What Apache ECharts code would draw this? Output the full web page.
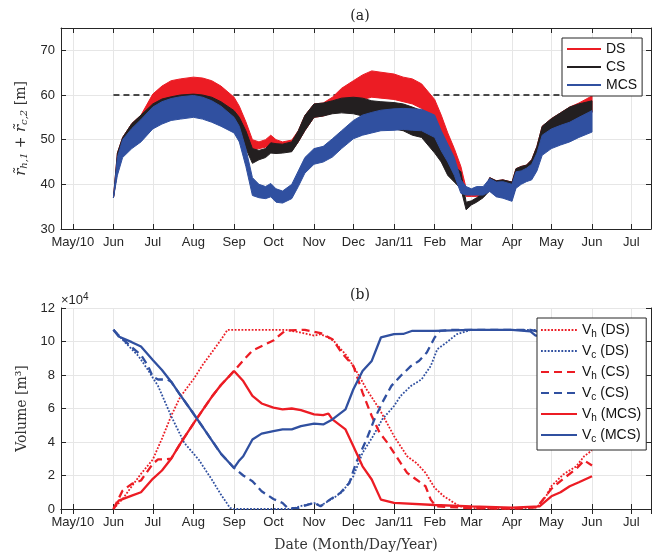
<!DOCTYPE html>
<html><head><meta charset="utf-8">
<script src="https://cdn.jsdelivr.net/npm/echarts@6/dist/echarts.min.js"></script>
<style>html,body{margin:0;padding:0;background:#fff}#c{width:659px;height:554px}</style>
</head><body><div id="c"></div>
<script>
// ---------- DATA: panel (a) band envelopes ----------
const topDates = ['2010-06-01','2010-06-04','2010-06-08','2010-06-15','2010-06-22','2010-07-01','2010-07-08','2010-07-15','2010-07-22','2010-08-01','2010-08-08','2010-08-15','2010-08-22','2010-09-01','2010-09-05','2010-09-10','2010-09-15','2010-09-20','2010-09-25','2010-09-29','2010-10-03','2010-10-08','2010-10-15','2010-10-20','2010-10-25','2010-11-01','2010-11-08','2010-11-15','2010-11-22','2010-12-01','2010-12-08','2010-12-15','2010-12-22','2011-01-01','2011-01-08','2011-01-15','2011-01-22','2011-02-01','2011-02-06','2011-02-11','2011-02-16','2011-02-21','2011-02-25','2011-03-01','2011-03-05','2011-03-10','2011-03-15','2011-03-20','2011-03-25','2011-04-01','2011-04-04','2011-04-08','2011-04-12','2011-04-16','2011-04-20','2011-04-24','2011-05-01','2011-05-08','2011-05-15','2011-05-22','2011-06-01'];
const mcsUpper = [37,46,50,52.5,54.5,57.3,58.5,59.2,59.6,59.9,59.5,58.7,57.5,55,53,48,41.5,40,39.5,40.2,39,38.5,40,43,46,48,48.5,50.2,52,54.3,55.5,56.1,56.6,56.9,57,56.9,56.8,55.5,52,49,46,41,39.5,39,39.5,39.5,41.3,40.5,40.6,40,42.8,43,43.6,44.5,47,51,52.4,53.2,53.9,55,56.5];
const mcsLower = [37,42,46,48,49.5,52.4,53.5,54.3,54.6,55,54.6,53.9,53,51.5,49.5,44,37.5,37,36.8,37.2,36,35.8,36.8,39.5,42.5,44.5,45,46.1,48,50.2,51,51.5,52,52.1,52.3,52.1,52,50.5,47.5,45,42,38,37.6,37.6,37.6,37.6,38.4,37.2,36.9,36.2,39.1,40,40.6,41,43,46.5,48,48.8,49.5,50.5,51.7];
const csUpper = [37,47,50.5,53.6,55.5,58,59.1,59.6,60,60.2,60,59.5,58.5,56.5,55,52,48,47.6,48,49.3,49.1,49,49.5,52,55.4,58,58.2,58.7,59.3,59.5,59.3,58.7,58.5,58.3,58,57.3,56.5,54,50,47.5,44,42.8,36,36.3,37,38,41.5,40.8,41,40.5,43.5,44,44.3,45.5,48.5,53,54.7,56,57.3,58,58.7];
const csLower = [37,43,47,49,51,53.5,54.5,55,55.3,55.5,55.3,55,54,52.5,51,48,44.7,45.5,46,47,46.9,47,47.3,49.5,52,55,55.3,55.8,56,55.8,55.3,55,54,52.4,52,51,50.5,47,45,42,40.5,39,34.3,35.4,36,37,38.6,37.4,37.2,36.8,39.5,40.5,41,42,44.5,48.5,51,52.5,53.9,55,56.1];
const dsUpper = [37,47,50.5,53.6,55.5,60.2,62,63.2,63.6,64,63.8,63.2,62,59.5,57.5,54,50,49.5,50,51,50,49.5,49.9,52,55.4,58,58.2,59.5,61.5,63.2,64.5,65.4,65.1,64.7,64,63.6,62.5,59,55.5,51.5,48,44,39.1,37.5,37.6,38,41.5,40.8,41,40.5,43.5,44,44.3,45.5,48.5,53,54.7,56,57.3,58.2,59.8];
const dsLower = [37,43,47,49,51,54,56,57,57.5,58,57.8,57,56.5,55.5,53.5,50,47.6,48,48.3,48.7,47.5,47.3,47.5,49.5,52,55,55.3,56,57,58,59,59.5,59.3,59,58.5,58,57,54,50,47,43.5,40,37.3,37.3,37.3,37.4,38.6,37.4,37.2,36.8,39.5,40.5,41,42,44.5,48.5,51,52.5,53.9,55,56.1];
const refDates = ['2010-06-01','2011-06-01'];
const refValues = [60,60];

// ---------- DATA: panel (b) volumes (x 10^4 m^3) ----------
const vhDsDates = ['2010-06-01','2010-06-08','2010-06-15','2010-06-22','2010-07-01','2010-07-08','2010-07-15','2010-07-22','2010-08-01','2010-08-08','2010-08-15','2010-08-22','2010-08-27','2010-09-15','2010-10-01','2010-10-10','2010-10-21','2010-11-01','2010-11-06','2010-11-10','2010-11-16','2010-11-26','2010-12-04','2010-12-11','2010-12-21','2011-01-01','2011-01-11','2011-01-18','2011-01-25','2011-02-01','2011-02-08','2011-02-20','2011-03-01','2011-04-01','2011-04-20','2011-04-27','2011-05-01','2011-05-10','2011-05-20','2011-05-26','2011-06-01'];
const vhDsVals = [0,0.6,1.36,2.1,2.95,4.2,5.55,6.7,7.74,8.6,9.34,10.1,10.7,10.7,10.7,10.7,10.55,10.35,10.44,10.3,10.04,9.14,8.14,7.15,5.95,4.35,3.15,2.75,2.16,1.26,0.76,0.16,0.05,0.02,0.1,0.76,1.36,2.06,2.55,3.15,3.5];
const vcDsDates = ['2010-06-01','2010-06-10','2010-06-20','2010-06-27','2010-07-01','2010-07-05','2010-07-15','2010-07-25','2010-08-05','2010-08-15','2010-08-22','2010-08-29','2010-09-01','2010-10-15','2010-10-21','2010-11-01','2010-11-06','2010-11-16','2010-11-23','2010-12-01','2010-12-08','2010-12-16','2010-12-23','2011-01-01','2011-01-06','2011-01-14','2011-01-22','2011-01-29','2011-02-03','2011-02-10','2011-02-18','2011-03-01','2011-04-20','2011-06-01'];
const vcDsVals = [10.7,9.94,9.14,8.34,7.84,7.35,5.55,3.95,2.95,1.76,0.86,0.06,0,0,0.16,0.36,0.2,0.66,1.06,1.96,3.35,4.35,5.35,6.15,6.75,7.35,7.74,8.54,9.54,9.94,10.44,10.7,10.7,10.6];
const vhCsDates = ['2010-06-01','2010-06-08','2010-06-15','2010-06-22','2010-07-01','2010-07-05','2010-07-10','2010-07-15','2010-07-22','2010-08-01','2010-08-08','2010-08-15','2010-08-22','2010-09-01','2010-09-08','2010-09-15','2010-10-01','2010-10-10','2010-10-25','2010-11-06','2010-11-15','2010-11-22','2010-12-01','2010-12-08','2010-12-15','2010-12-21','2010-12-27','2011-01-01','2011-01-06','2011-01-11','2011-01-18','2011-01-25','2011-01-29','2011-02-02','2011-03-01','2011-04-01','2011-04-20','2011-05-01','2011-05-10','2011-05-20','2011-05-26','2011-06-01'];
const vhCsVals = [0,1.1,1.5,1.7,2.7,2.96,2.96,3.0,3.9,5.1,5.9,6.7,7.4,8.24,8.87,9.46,10.06,10.65,10.7,10.5,10.14,9.34,8.54,6.95,5.55,4.55,3.95,3.35,2.75,2.16,1.76,1.36,0.56,0.16,0.05,0.02,0.1,1.2,1.8,2.4,2.9,2.6];
const vcCsDates = ['2010-06-01','2010-06-05','2010-06-15','2010-06-22','2010-06-27','2010-07-01','2010-07-05','2010-07-12','2010-07-15','2010-07-22','2010-08-01','2010-08-08','2010-08-15','2010-08-22','2010-09-01','2010-09-08','2010-09-15','2010-09-22','2010-10-01','2010-10-08','2010-10-12','2010-10-20','2010-10-25','2010-11-01','2010-11-06','2010-11-13','2010-11-21','2010-11-28','2010-12-03','2010-12-11','2010-12-17','2010-12-23','2010-12-30','2011-01-06','2011-01-14','2011-01-20','2011-01-26','2011-02-01','2011-02-05','2011-02-15','2011-04-15','2011-04-20','2011-06-01'];
const vcCsVals = [10.7,10.36,9.66,9.2,8.6,7.9,7.73,7.73,7.6,6.8,5.7,4.9,4.1,3.3,2.45,2.0,1.66,1.06,0.6,0.36,0.05,0.05,0.2,0.36,0.16,0.56,0.96,1.56,2.75,4.15,5.35,6.35,7.35,7.94,8.54,8.84,9.34,10.24,10.64,10.7,10.7,10.6,10.5];
const vhMcsDates = ['2010-06-01','2010-06-05','2010-06-15','2010-06-22','2010-07-01','2010-07-08','2010-07-15','2010-07-22','2010-08-01','2010-08-08','2010-08-15','2010-08-22','2010-09-01','2010-09-05','2010-09-08','2010-09-15','2010-09-22','2010-10-01','2010-10-08','2010-10-15','2010-10-22','2010-11-01','2010-11-08','2010-11-12','2010-11-15','2010-11-25','2010-12-01','2010-12-08','2010-12-15','2010-12-22','2011-01-01','2011-02-01','2011-03-01','2011-04-01','2011-04-22','2011-05-01','2011-05-08','2011-05-15','2011-05-22','2011-06-01'];
const vhMcsVals = [0,0.5,0.8,1.0,1.8,2.3,3.0,3.9,5.1,5.9,6.7,7.4,8.24,7.9,7.64,6.75,6.3,6.05,5.95,6.0,5.9,5.65,5.6,5.7,5.35,4.75,3.75,2.55,1.76,0.56,0.36,0.24,0.16,0.08,0.16,0.76,1.0,1.36,1.6,1.96];
const vcMcsDates = ['2010-06-01','2010-06-05','2010-06-15','2010-06-22','2010-07-01','2010-07-08','2010-07-15','2010-07-22','2010-08-01','2010-08-08','2010-08-15','2010-08-22','2010-09-01','2010-09-05','2010-09-08','2010-09-15','2010-09-22','2010-10-01','2010-10-08','2010-10-15','2010-10-22','2010-11-01','2010-11-08','2010-11-15','2010-11-25','2010-12-01','2010-12-08','2010-12-15','2010-12-22','2011-01-01','2011-01-08','2011-01-15','2011-02-01','2011-03-01','2011-04-01','2011-04-15','2011-04-19','2011-05-01','2011-06-01'];
const vcMcsVals = [10.7,10.3,9.96,9.7,8.9,8.3,7.6,6.8,5.7,4.9,4.1,3.3,2.45,2.9,3.15,4.15,4.5,4.65,4.75,4.75,4.95,5.1,5.05,5.35,5.95,7.15,8.24,8.84,10.24,10.44,10.45,10.64,10.64,10.7,10.7,10.6,10.35,10.4,10.4];

const monthNames = ['Jan','Feb','Mar','Apr','May','Jun','Jul','Aug','Sep','Oct','Nov','Dec'];

// ---------- helpers ----------
const ts = s => new Date(s + 'T00:00:00').getTime();
const pairs = (d, v) => d.map((s, i) => [ts(s), v[i]]);
const RED = '#ec1c24', BLUE = '#3050a0', BLACK = '#231f20';
const AX = '#262626', GRID = '#e6e6e6';
const SANS = 'Liberation Sans, Arial, sans-serif';
const SERIF = 'DejaVu Serif, serif';
const xMin = ts('2010-04-22'), xMax = ts('2011-07-16');

function xFmt(v) {
  const d = new Date(v);
  const m = d.getMonth();
  if (d.getFullYear() === 2010 && m === 4) return 'May/10';
  if (m === 0) return 'Jan/' + String(d.getFullYear()).slice(2);
  return monthNames[m];
}
function xAxisMain(gi, withName) {
  const a = {
    type: 'time', gridIndex: gi, min: xMin, max: xMax,
    minInterval: 28 * 864e5, maxInterval: 31 * 864e5,
    axisLine: { lineStyle: { color: AX, width: 1 } },
    axisTick: { inside: true, length: 5, lineStyle: { color: AX } },
    axisLabel: { formatter: xFmt, color: '#262626', fontFamily: SANS, fontSize: 13, margin: 7, interval: 0, hideOverlap: false, showMinLabel: false, showMaxLabel: false },
    splitLine: { show: true, lineStyle: { color: GRID, width: 1 } }
  };
  if (withName) {
    a.name = 'Date (Month/Day/Year)';
    a.nameLocation = 'middle';
    a.nameGap = 29;
    a.nameTextStyle = { fontFamily: SERIF, fontSize: 14, color: '#333' };
  }
  return a;
}
function xAxisTop(gi) {
  return {
    type: 'time', gridIndex: gi, position: 'top', min: xMin, max: xMax,
    minInterval: 28 * 864e5, maxInterval: 31 * 864e5,
    axisLine: { lineStyle: { color: AX } },
    axisTick: { inside: true, length: 5, lineStyle: { color: AX } },
    axisLabel: { show: false }, splitLine: { show: false }
  };
}
function yAxisPair(gi, min, max, interval, name, nameStyle) {
  return [{
    type: 'value', gridIndex: gi, min, max, interval,
    name, nameLocation: 'middle', nameGap: 30, nameTextStyle: nameStyle,
    axisLine: { show: true, lineStyle: { color: AX } },
    axisTick: { show: true, inside: true, length: 5, lineStyle: { color: AX } },
    axisLabel: { color: '#262626', fontFamily: SANS, fontSize: 13, margin: 6, showMaxLabel: max % interval === 0 },
    splitLine: { show: true, lineStyle: { color: GRID } }
  }, {
    type: 'value', gridIndex: gi, min, max, interval, position: 'right',
    axisLine: { show: true, lineStyle: { color: AX } },
    axisTick: { show: true, inside: true, length: 5, lineStyle: { color: AX } },
    axisLabel: { show: false }, splitLine: { show: false }
  }];
}
function band(name, upper, lower, color) {
  return {
    type: 'custom', name, xAxisIndex: 0, yAxisIndex: 0, z: 3,
    data: [[ts('2010-12-01'), 50]],
    renderItem: function (params, api) {
      const pts = [];
      for (let i = 0; i < topDates.length; i++) pts.push(api.coord([ts(topDates[i]), upper[i]]));
      for (let i = topDates.length - 1; i >= 0; i--) pts.push(api.coord([ts(topDates[i]), lower[i]]));
      return { type: 'polygon', shape: { points: pts }, style: { fill: color, stroke: color, lineWidth: 1 } };
    },
    silent: true, tooltip: { show: false }
  };
}
function legendLine(name, color) {
  return { type: 'line', name, xAxisIndex: 0, yAxisIndex: 0, data: [], symbol: 'none', lineStyle: { color, width: 1.2 }, itemStyle: { color } };
}
function volLine(name, d, v, color, kind) {
  const ls = { color, width: 2.3 };
  if (kind === 'dash') { ls.type = [8, 5]; ls.width = 2.3; }
  if (kind === 'dot') { ls.type = [1.8, 1.6]; ls.width = 1.8; }
  return { type: 'line', name, xAxisIndex: 1, yAxisIndex: 1, data: pairs(d, v), symbol: 'none', showSymbol: false, lineStyle: ls, itemStyle: { color }, z: 3 };
}

const yA = yAxisPair(0, 30, 75, 10,
  '{i|r\u0303}{s|h,1}{n| + }{i|r\u0303}{s|c,2}{n| [m]}',
  { fontFamily: SERIF, fontSize: 14, color: '#333', rich: {
    i: { fontFamily: SERIF, fontStyle: 'italic', fontSize: 15, color: '#333' },
    s: { fontFamily: SERIF, fontStyle: 'italic', fontSize: 10, color: '#333', padding: [7, 0, 0, 0] },
    n: { fontFamily: SERIF, fontSize: 14, color: '#333' } } });
const yB = yAxisPair(1, 0, 12, 2, 'Volume [m\u00b3]', { fontFamily: SERIF, fontSize: 14, color: '#333' });

const chart = echarts.init(document.getElementById('c'), null, { renderer: 'canvas' });
chart.setOption({
  animation: false,
  backgroundColor: '#fff',
  title: [
    { text: '(a)', left: 355, top: 4, textAlign: 'center', textStyle: { fontFamily: SERIF, fontSize: 14, fontWeight: 'normal', color: '#222' } },
    { text: '(b)', left: 355, top: 283, textAlign: 'center', textStyle: { fontFamily: SERIF, fontSize: 14, fontWeight: 'normal', color: '#222' } }
  ],
  grid: [
    { left: 61, right: 8, top: 28, height: 201 },
    { left: 61, right: 8, top: 308, height: 201 }
  ],
  xAxis: [xAxisMain(0, false), xAxisMain(1, true), xAxisTop(0), xAxisTop(1)],
  yAxis: [yA[0], yB[0], yA[1], yB[1]],
  legend: [
    {
      data: ['DS', 'CS', 'MCS'], orient: 'vertical', left: 562, top: 38,
      itemWidth: 34, itemHeight: 12, itemGap: 4, padding: [4, 5, 4, 4],
      itemStyle: { opacity: 0 },
      backgroundColor: '#fff', borderColor: AX, borderWidth: 1, borderRadius: 0, z: 10,
      textStyle: { fontFamily: SANS, fontSize: 14, color: '#111' }
    },
    {
      data: ['V_h (DS)', 'V_c (DS)', 'V_h (CS)', 'V_c (CS)', 'V_h (MCS)', 'V_c (MCS)'],
      orient: 'vertical', left: 537, top: 318,
      itemWidth: 36, itemHeight: 14, itemGap: 5, padding: [5, 5, 6, 3],
      itemStyle: { opacity: 0 },
      backgroundColor: '#fff', borderColor: AX, borderWidth: 1, borderRadius: 0, z: 10,
      formatter: n => n.replace(/V_(\w)/, '{v|V}{s|$1}'),
      textStyle: { fontFamily: SANS, fontSize: 14, color: '#111', rich: {
        v: { fontFamily: SANS, fontSize: 14, color: '#111' },
        s: { fontFamily: SANS, fontSize: 10, color: '#111', padding: [8, 0, 0, 0] } } }
    }
  ],
  graphic: [
    { type: 'text', left: 61, top: 292, style: { rich: { a: { fontFamily: SANS, fontSize: 13, fill: '#262626' }, b: { fontFamily: SANS, fontSize: 10, fill: '#262626', padding: [0, 0, 7, 0] } }, text: '{a|\u00d710}{b|4}' } }
  ],
  series: [
    { type: 'line', name: 'ref', xAxisIndex: 0, yAxisIndex: 0, data: pairs(refDates, refValues), symbol: 'none', lineStyle: { color: '#111', width: 1.5, type: [6, 4] }, z: 2, silent: true },
    band('DS band', dsUpper, dsLower, RED),
    band('CS band', csUpper, csLower, BLACK),
    band('MCS band', mcsUpper, mcsLower, BLUE),
    legendLine('DS', RED), legendLine('CS', BLACK), legendLine('MCS', BLUE),
    volLine('V_h (DS)', vhDsDates, vhDsVals, RED, 'dot'),
    volLine('V_c (DS)', vcDsDates, vcDsVals, BLUE, 'dot'),
    volLine('V_h (CS)', vhCsDates, vhCsVals, RED, 'dash'),
    volLine('V_c (CS)', vcCsDates, vcCsVals, BLUE, 'dash'),
    volLine('V_h (MCS)', vhMcsDates, vhMcsVals, RED, 'solid'),
    volLine('V_c (MCS)', vcMcsDates, vcMcsVals, BLUE, 'solid')
  ]
});
</script></body></html>
